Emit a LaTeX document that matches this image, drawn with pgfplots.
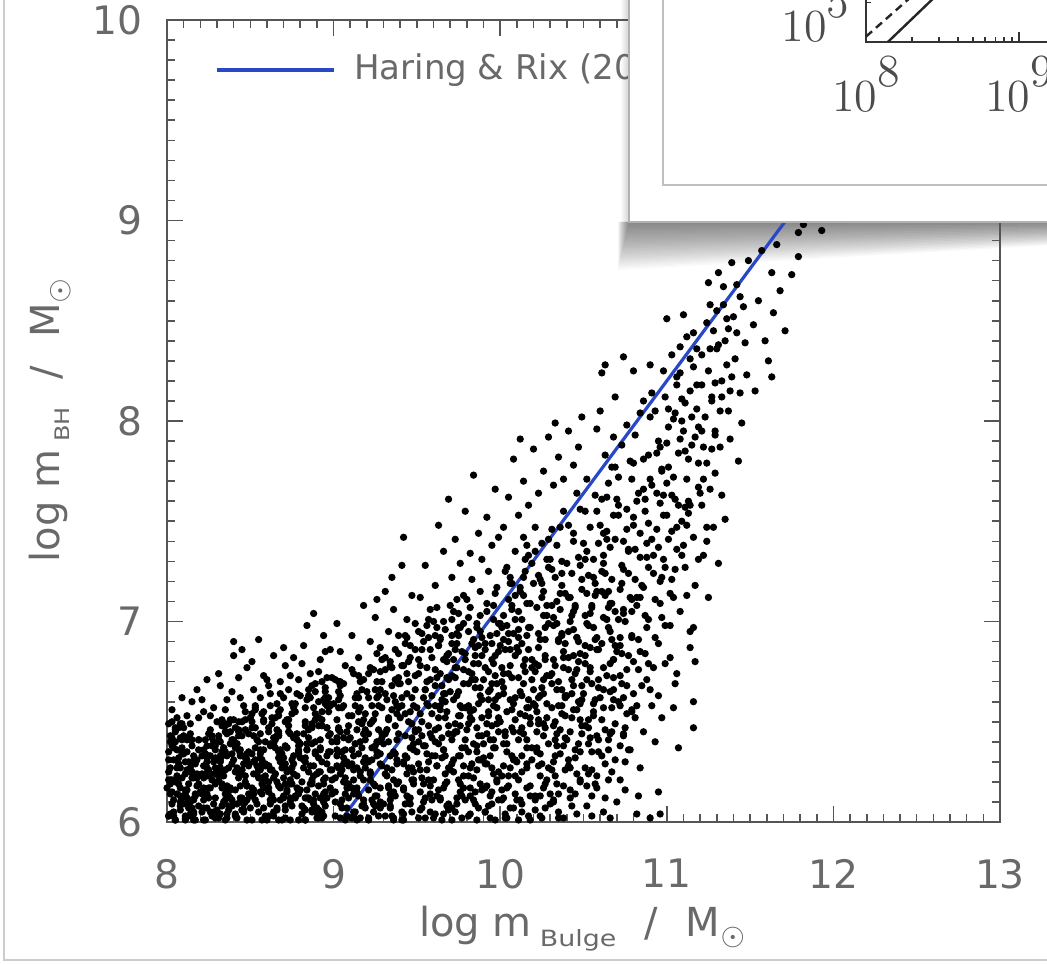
\documentclass[border=0pt]{standalone}
\usepackage{pgfplots}
\pgfplotsset{compat=1.18}
\usepackage{pgfplotstable}
\usepackage{graphicx}
\usepackage{fontspec}
\setmainfont{DejaVu Sans}
\newfontfamily\lmr{Latin Modern Roman}
\definecolor{hrblue}{RGB}{40,72,200}
\definecolor{txtgray}{RGB}{105,105,105}
\definecolor{axgray}{RGB}{85,85,85}

\pgfplotstableread[row sep=\\]{
x y\\
8.01 6.03\\ 8.04 6.11\\ 8.07 6.19\\ 8.02 6.27\\ 8.09 6.34\\ 8.05 6.40\\ 8.03 6.15\\ 8.08 6.06\\ 8.06 6.23\\ 8.01 6.31\\ 8.04 6.37\\ 8.09 6.12\\ 8.02 6.21\\ 8.07 6.29\\ 8.05 6.01\\ 8.03 6.09\\ 8.08 6.17\\ 8.06 6.36\\ 8.01 6.25\\ 8.09 6.41\\ 8.04 6.05\\ 8.07 6.32\\ 8.02 6.14\\ 8.05 6.20\\ 8.08 6.27\\
8.11 6.02\\ 8.14 6.10\\ 8.18 6.18\\ 8.12 6.26\\ 8.16 6.33\\ 8.19 6.41\\ 8.13 6.07\\ 8.17 6.14\\ 8.15 6.22\\ 8.11 6.30\\ 8.19 6.36\\ 8.14 6.44\\ 8.16 6.04\\ 8.12 6.12\\ 8.18 6.24\\ 8.13 6.19\\ 8.17 6.29\\ 8.15 6.38\\ 8.11 6.16\\ 8.19 6.08\\ 8.14 6.27\\ 8.16 6.01\\ 8.12 6.35\\ 8.18 6.31\\ 8.15 6.11\\
8.21 6.05\\ 8.24 6.13\\ 8.27 6.21\\ 8.22 6.28\\ 8.29 6.36\\ 8.25 6.44\\ 8.23 6.01\\ 8.28 6.09\\ 8.26 6.17\\ 8.21 6.24\\ 8.24 6.32\\ 8.28 6.40\\ 8.22 6.11\\ 8.27 6.03\\ 8.25 6.26\\ 8.29 6.19\\ 8.23 6.34\\ 8.26 6.46\\ 8.21 6.15\\ 8.28 6.30\\ 8.24 6.07\\ 8.27 6.38\\ 8.22 6.22\\ 8.25 6.12\\ 8.29 6.02\\
8.31 6.02\\ 8.34 6.10\\ 8.38 6.17\\ 8.32 6.25\\ 8.36 6.33\\ 8.39 6.41\\ 8.33 6.48\\ 8.37 6.06\\ 8.35 6.14\\ 8.31 6.21\\ 8.39 6.29\\ 8.34 6.37\\ 8.36 6.44\\ 8.32 6.04\\ 8.38 6.12\\ 8.33 6.19\\ 8.37 6.27\\ 8.35 6.35\\ 8.31 6.43\\ 8.39 6.08\\ 8.34 6.23\\ 8.36 6.16\\ 8.32 6.31\\ 8.38 6.39\\ 8.35 6.01\\
8.41 6.04\\ 8.44 6.12\\ 8.47 6.20\\ 8.42 6.27\\ 8.49 6.35\\ 8.45 6.43\\ 8.43 6.50\\ 8.48 6.01\\ 8.46 6.09\\ 8.41 6.16\\ 8.44 6.24\\ 8.48 6.31\\ 8.42 6.39\\ 8.47 6.46\\ 8.45 6.06\\ 8.49 6.14\\ 8.43 6.22\\ 8.46 6.29\\ 8.41 6.37\\ 8.48 6.18\\ 8.44 6.33\\ 8.47 6.10\\ 8.42 6.02\\ 8.45 6.26\\ 8.49 6.44\\
8.51 6.01\\ 8.54 6.09\\ 8.58 6.17\\ 8.52 6.24\\ 8.56 6.32\\ 8.59 6.40\\ 8.53 6.47\\ 8.57 6.54\\ 8.55 6.05\\ 8.51 6.13\\ 8.59 6.21\\ 8.54 6.28\\ 8.56 6.36\\ 8.52 6.43\\ 8.58 6.50\\ 8.53 6.11\\ 8.57 6.19\\ 8.55 6.26\\ 8.51 6.34\\ 8.59 6.03\\ 8.54 6.41\\ 8.56 6.15\\ 8.52 6.30\\ 8.58 6.07\\ 8.55 6.22\\
8.61 6.03\\ 8.64 6.11\\ 8.67 6.18\\ 8.62 6.26\\ 8.69 6.34\\ 8.65 6.41\\ 8.63 6.49\\ 8.68 6.56\\ 8.66 6.07\\ 8.61 6.15\\ 8.64 6.22\\ 8.68 6.30\\ 8.62 6.38\\ 8.67 6.45\\ 8.65 6.52\\ 8.69 6.01\\ 8.63 6.13\\ 8.66 6.20\\ 8.61 6.28\\ 8.68 6.36\\ 8.64 6.05\\ 8.67 6.43\\ 8.62 6.09\\ 8.65 6.24\\ 8.69 6.32\\
8.71 6.02\\ 8.74 6.10\\ 8.78 6.17\\ 8.72 6.25\\ 8.76 6.33\\ 8.79 6.40\\ 8.73 6.48\\ 8.77 6.55\\ 8.75 6.59\\ 8.71 6.06\\ 8.79 6.14\\ 8.74 6.21\\ 8.76 6.29\\ 8.72 6.37\\ 8.78 6.44\\ 8.73 6.51\\ 8.77 6.12\\ 8.75 6.19\\ 8.71 6.27\\ 8.79 6.35\\ 8.74 6.01\\ 8.76 6.42\\ 8.72 6.16\\ 8.78 6.23\\ 8.75 6.08\\
8.81 6.04\\ 8.84 6.12\\ 8.87 6.19\\ 8.82 6.27\\ 8.89 6.35\\ 8.85 6.42\\ 8.83 6.50\\ 8.88 6.57\\ 8.86 6.62\\ 8.81 6.08\\ 8.84 6.16\\ 8.88 6.23\\ 8.82 6.31\\ 8.87 6.39\\ 8.85 6.46\\ 8.89 6.54\\ 8.83 6.01\\ 8.86 6.11\\ 8.81 6.20\\ 8.88 6.28\\ 8.84 6.36\\ 8.87 6.06\\ 8.82 6.44\\ 8.85 6.25\\ 8.89 6.14\\
8.91 6.02\\ 8.94 6.10\\ 8.98 6.17\\ 8.92 6.25\\ 8.96 6.33\\ 8.99 6.40\\ 8.93 6.48\\ 8.97 6.55\\ 8.95 6.62\\ 8.91 6.06\\ 8.99 6.14\\ 8.94 6.21\\ 8.96 6.29\\ 8.92 6.37\\ 8.98 6.44\\ 8.93 6.51\\ 8.97 6.59\\ 8.95 6.65\\ 8.91 6.18\\ 8.99 6.26\\ 8.94 6.03\\ 8.96 6.47\\ 8.92 6.12\\ 8.98 6.35\\ 8.95 6.08\\
8.08 6.49\\ 8.12 6.53\\ 8.19 6.52\\ 8.24 6.71\\ 8.32 6.68\\ 8.28 6.57\\ 8.36 6.61\\ 8.40 6.90\\ 8.40 6.83\\ 8.44 6.62\\ 8.48 6.77\\ 8.52 6.66\\ 8.55 6.91\\ 8.58 6.73\\ 8.62 6.64\\ 8.64 6.83\\ 8.68 6.70\\ 8.71 6.78\\ 8.73 6.66\\ 8.76 6.82\\ 8.79 6.71\\ 8.82 6.88\\ 8.84 6.98\\ 8.86 6.74\\ 8.88 7.04\\ 8.89 6.69\\ 8.92 6.81\\ 8.94 6.93\\ 8.96 6.72\\ 8.98 6.86\\ 8.15 6.60\\ 8.05 6.47\\ 8.22 6.55\\ 8.46 6.58\\ 8.61 6.68\\ 8.70 6.62\\ 8.85 6.66\\ 8.93 6.70\\
9.01 6.03\\ 9.05 6.11\\ 9.08 6.19\\ 9.02 6.28\\ 9.07 6.36\\ 9.04 6.45\\ 9.09 6.53\\ 9.03 6.61\\ 9.06 6.69\\ 9.01 6.15\\ 9.08 6.07\\ 9.04 6.24\\ 9.06 6.32\\ 9.02 6.40\\ 9.09 6.48\\ 9.05 6.57\\ 9.03 6.65\\ 9.07 6.01\\ 9.01 6.22\\ 9.08 6.30\\ 9.04 6.09\\ 9.06 6.42\\ 9.02 6.51\\ 9.09 6.17\\ 9.05 6.35\\ 9.03 6.70\\
9.12 6.05\\ 9.15 6.13\\ 9.18 6.21\\ 9.11 6.29\\ 9.17 6.37\\ 9.14 6.46\\ 9.19 6.54\\ 9.13 6.62\\ 9.16 6.70\\ 9.11 6.76\\ 9.18 6.09\\ 9.14 6.17\\ 9.16 6.25\\ 9.12 6.33\\ 9.19 6.41\\ 9.15 6.50\\ 9.13 6.58\\ 9.17 6.66\\ 9.11 6.02\\ 9.18 6.44\\ 9.14 6.27\\ 9.16 6.57\\ 9.12 6.14\\ 9.19 6.32\\ 9.15 6.73\\ 9.13 6.39\\
9.21 6.01\\ 9.24 6.09\\ 9.28 6.17\\ 9.22 6.25\\ 9.26 6.33\\ 9.29 6.42\\ 9.23 6.50\\ 9.27 6.58\\ 9.25 6.66\\ 9.21 6.74\\ 9.29 6.81\\ 9.24 6.05\\ 9.26 6.13\\ 9.22 6.21\\ 9.28 6.29\\ 9.23 6.37\\ 9.27 6.46\\ 9.25 6.54\\ 9.21 6.62\\ 9.29 6.70\\ 9.24 6.19\\ 9.26 6.40\\ 9.22 6.77\\ 9.28 6.07\\ 9.23 6.31\\ 9.27 6.63\\
9.31 6.03\\ 9.34 6.11\\ 9.38 6.19\\ 9.32 6.27\\ 9.36 6.35\\ 9.39 6.44\\ 9.33 6.52\\ 9.37 6.60\\ 9.35 6.68\\ 9.31 6.76\\ 9.39 6.84\\ 9.34 6.07\\ 9.36 6.15\\ 9.32 6.23\\ 9.38 6.31\\ 9.33 6.40\\ 9.37 6.48\\ 9.35 6.56\\ 9.31 6.64\\ 9.39 6.72\\ 9.34 6.80\\ 9.36 6.02\\ 9.32 6.46\\ 9.38 6.58\\ 9.33 6.17\\ 9.37 6.86\\
9.41 6.05\\ 9.44 6.13\\ 9.48 6.21\\ 9.42 6.29\\ 9.46 6.37\\ 9.49 6.46\\ 9.43 6.54\\ 9.47 6.62\\ 9.45 6.70\\ 9.41 6.78\\ 9.49 6.86\\ 9.44 6.92\\ 9.46 6.09\\ 9.42 6.17\\ 9.48 6.25\\ 9.43 6.33\\ 9.47 6.42\\ 9.45 6.50\\ 9.41 6.58\\ 9.49 6.66\\ 9.44 6.74\\ 9.46 6.82\\ 9.42 6.01\\ 9.48 6.39\\ 9.43 6.89\\ 9.47 6.27\\
9.02 6.99\\ 9.04 6.85\\ 9.07 6.78\\ 9.11 6.93\\ 9.15 6.82\\ 9.18 7.08\\ 9.22 6.90\\ 9.25 7.02\\ 9.28 6.87\\ 9.31 7.15\\ 9.33 6.95\\ 9.36 7.06\\ 9.39 6.93\\ 9.41 7.28\\ 9.42 7.42\\ 9.44 7.01\\ 9.47 7.13\\ 9.49 6.99\\ 9.35 7.22\\ 9.26 7.11\\
9.51 6.02\\ 9.54 6.10\\ 9.58 6.18\\ 9.52 6.26\\ 9.56 6.34\\ 9.59 6.42\\ 9.53 6.50\\ 9.57 6.58\\ 9.55 6.66\\ 9.51 6.74\\ 9.59 6.82\\ 9.54 6.90\\ 9.56 6.98\\ 9.52 6.06\\ 9.58 6.14\\ 9.53 6.22\\ 9.57 6.30\\ 9.55 6.38\\ 9.51 6.46\\ 9.59 6.54\\ 9.54 6.62\\ 9.56 6.70\\ 9.52 6.78\\ 9.58 6.86\\ 9.53 6.94\\ 9.57 7.01\\ 9.55 6.12\\ 9.51 6.40\\
9.61 6.04\\ 9.64 6.12\\ 9.68 6.20\\ 9.62 6.28\\ 9.66 6.36\\ 9.69 6.44\\ 9.63 6.52\\ 9.67 6.60\\ 9.65 6.68\\ 9.61 6.76\\ 9.69 6.84\\ 9.64 6.92\\ 9.66 7.00\\ 9.62 7.07\\ 9.68 6.08\\ 9.63 6.16\\ 9.67 6.24\\ 9.65 6.32\\ 9.61 6.40\\ 9.69 6.48\\ 9.64 6.56\\ 9.66 6.64\\ 9.62 6.72\\ 9.68 6.80\\ 9.63 6.88\\ 9.67 6.96\\ 9.65 6.01\\ 9.61 6.58\\
9.71 6.01\\ 9.74 6.09\\ 9.78 6.17\\ 9.72 6.25\\ 9.76 6.33\\ 9.79 6.41\\ 9.73 6.49\\ 9.77 6.57\\ 9.75 6.65\\ 9.71 6.73\\ 9.79 6.81\\ 9.74 6.89\\ 9.76 6.97\\ 9.72 7.05\\ 9.78 7.13\\ 9.73 6.05\\ 9.77 6.13\\ 9.75 6.21\\ 9.71 6.29\\ 9.79 6.37\\ 9.74 6.45\\ 9.76 6.53\\ 9.72 6.61\\ 9.78 6.69\\ 9.73 6.77\\ 9.77 6.85\\ 9.75 6.93\\ 9.71 7.01\\
9.81 6.03\\ 9.84 6.11\\ 9.88 6.19\\ 9.82 6.27\\ 9.86 6.35\\ 9.89 6.43\\ 9.83 6.51\\ 9.87 6.59\\ 9.85 6.67\\ 9.81 6.75\\ 9.89 6.83\\ 9.84 6.91\\ 9.86 6.99\\ 9.82 7.07\\ 9.88 7.15\\ 9.83 7.21\\ 9.87 6.07\\ 9.85 6.15\\ 9.81 6.23\\ 9.89 6.31\\ 9.84 6.39\\ 9.86 6.47\\ 9.82 6.55\\ 9.88 6.63\\ 9.83 6.71\\ 9.87 6.79\\ 9.85 6.87\\ 9.81 6.95\\
9.91 6.05\\ 9.94 6.13\\ 9.98 6.21\\ 9.92 6.29\\ 9.96 6.37\\ 9.99 6.45\\ 9.93 6.53\\ 9.97 6.61\\ 9.95 6.69\\ 9.91 6.77\\ 9.99 6.85\\ 9.94 6.93\\ 9.96 7.01\\ 9.92 7.09\\ 9.98 7.17\\ 9.93 7.25\\ 9.97 6.01\\ 9.95 6.09\\ 9.91 6.17\\ 9.99 6.25\\ 9.94 6.33\\ 9.96 6.41\\ 9.92 6.49\\ 9.98 6.57\\ 9.93 6.65\\ 9.97 6.73\\ 9.95 6.81\\ 9.91 6.89\\
9.52 7.12\\ 9.55 7.28\\ 9.58 7.06\\ 9.61 7.18\\ 9.63 7.48\\ 9.66 7.35\\ 9.69 7.61\\ 9.71 7.22\\ 9.73 7.41\\ 9.76 7.29\\ 9.79 7.55\\ 9.82 7.34\\ 9.84 7.73\\ 9.87 7.44\\ 9.89 7.31\\ 9.92 7.52\\ 9.95 7.38\\ 9.97 7.66\\ 9.99 7.42\\ 9.60 7.00\\ 9.74 7.11\\
10.03 6.02\\ 10.09 6.14\\ 10.01 6.23\\ 10.06 6.07\\ 10.08 6.31\\ 10.02 6.39\\ 10.05 6.18\\ 10.07 6.47\\ 10.04 6.55\\ 10.09 6.62\\ 10.01 6.70\\ 10.06 6.78\\ 10.03 6.86\\ 10.08 6.94\\ 10.02 7.03\\ 10.05 7.11\\ 10.07 7.19\\ 10.04 7.27\\ 10.09 7.35\\ 10.01 6.11\\ 10.06 6.27\\ 10.03 6.43\\ 10.08 6.59\\ 10.02 6.74\\ 10.05 6.90\\ 10.07 7.06\\ 10.04 6.35\\ 10.09 6.51\\ 10.01 6.97\\ 10.06 7.22\\
10.13 6.05\\ 10.18 6.13\\ 10.11 6.21\\ 10.16 6.29\\ 10.19 6.37\\ 10.12 6.45\\ 10.15 6.53\\ 10.17 6.61\\ 10.14 6.69\\ 10.19 6.77\\ 10.11 6.85\\ 10.16 6.93\\ 10.13 7.01\\ 10.18 7.09\\ 10.12 7.17\\ 10.15 7.25\\ 10.17 7.33\\ 10.14 7.42\\ 10.11 6.01\\ 10.16 6.17\\ 10.13 6.33\\ 10.18 6.49\\ 10.12 6.65\\ 10.15 6.81\\ 10.17 6.97\\ 10.14 7.13\\ 10.19 7.29\\ 10.11 6.41\\ 10.16 6.57\\ 10.13 6.89\\
10.24 6.03\\ 10.21 6.11\\ 10.27 6.19\\ 10.29 6.27\\ 10.22 6.35\\ 10.26 6.43\\ 10.23 6.51\\ 10.28 6.59\\ 10.25 6.67\\ 10.21 6.75\\ 10.27 6.83\\ 10.24 6.91\\ 10.29 6.99\\ 10.22 7.07\\ 10.26 7.15\\ 10.23 7.23\\ 10.28 7.31\\ 10.25 7.39\\ 10.21 7.47\\ 10.27 6.07\\ 10.24 6.23\\ 10.29 6.39\\ 10.22 6.55\\ 10.26 6.71\\ 10.23 6.87\\ 10.28 7.03\\ 10.25 7.19\\ 10.21 7.35\\ 10.27 6.47\\ 10.24 6.63\\
10.35 6.02\\ 10.32 6.10\\ 10.38 6.18\\ 10.31 6.26\\ 10.36 6.34\\ 10.39 6.42\\ 10.33 6.50\\ 10.37 6.58\\ 10.34 6.66\\ 10.31 6.74\\ 10.38 6.82\\ 10.35 6.90\\ 10.32 6.98\\ 10.36 7.06\\ 10.39 7.14\\ 10.33 7.22\\ 10.37 7.30\\ 10.34 7.38\\ 10.31 7.46\\ 10.38 7.55\\ 10.35 6.14\\ 10.32 6.30\\ 10.36 6.46\\ 10.39 6.62\\ 10.33 6.78\\ 10.37 6.94\\ 10.34 7.10\\ 10.31 7.26\\ 10.38 6.38\\ 10.35 6.70\\
10.46 6.04\\ 10.42 6.12\\ 10.48 6.20\\ 10.41 6.28\\ 10.45 6.36\\ 10.49 6.44\\ 10.43 6.52\\ 10.47 6.60\\ 10.44 6.68\\ 10.41 6.76\\ 10.48 6.84\\ 10.46 6.92\\ 10.42 7.00\\ 10.45 7.08\\ 10.49 7.16\\ 10.43 7.24\\ 10.47 7.32\\ 10.44 7.40\\ 10.41 7.48\\ 10.48 7.56\\ 10.46 7.64\\ 10.42 6.16\\ 10.45 6.32\\ 10.49 6.48\\ 10.43 6.64\\ 10.47 6.80\\ 10.44 6.96\\ 10.41 7.12\\ 10.48 7.28\\ 10.46 6.56\\
10.02 7.47\\ 10.05 7.62\\ 10.08 7.81\\ 10.11 7.53\\ 10.14 7.70\\ 10.17 7.58\\ 10.20 7.86\\ 10.23 7.64\\ 10.26 7.75\\ 10.29 7.92\\ 10.32 7.68\\ 10.35 7.82\\ 10.38 7.71\\ 10.41 7.95\\ 10.44 7.78\\ 10.47 7.87\\ 10.49 8.02\\ 10.12 7.91\\ 10.33 7.99\\
10.52 6.08\\ 10.57 6.19\\ 10.51 6.27\\ 10.55 6.35\\ 10.58 6.43\\ 10.53 6.51\\ 10.56 6.59\\ 10.59 6.67\\ 10.54 6.75\\ 10.51 6.83\\ 10.57 6.91\\ 10.52 6.99\\ 10.55 7.07\\ 10.58 7.15\\ 10.53 7.23\\ 10.56 7.31\\ 10.59 7.39\\ 10.54 7.47\\ 10.51 7.55\\ 10.57 7.63\\ 10.52 7.71\\ 10.55 6.03\\ 10.58 6.23\\ 10.53 6.39\\ 10.56 6.55\\ 10.59 6.71\\ 10.54 6.87\\ 10.51 7.03\\ 10.57 7.19\\ 10.52 7.35\\
10.63 6.12\\ 10.67 6.25\\ 10.61 6.33\\ 10.65 6.41\\ 10.69 6.49\\ 10.62 6.57\\ 10.66 6.65\\ 10.64 6.73\\ 10.68 6.81\\ 10.61 6.89\\ 10.65 6.97\\ 10.69 7.05\\ 10.63 7.13\\ 10.67 7.21\\ 10.62 7.29\\ 10.66 7.37\\ 10.64 7.45\\ 10.68 7.53\\ 10.61 7.61\\ 10.65 7.69\\ 10.69 7.77\\ 10.63 7.83\\ 10.67 6.45\\ 10.62 6.77\\ 10.66 7.09\\ 10.64 7.41\\ 10.68 6.61\\ 10.61 7.25\\
10.72 6.21\\ 10.78 6.36\\ 10.74 6.44\\ 10.81 6.52\\ 10.71 6.60\\ 10.76 6.68\\ 10.83 6.76\\ 10.73 6.84\\ 10.79 6.92\\ 10.75 7.00\\ 10.82 7.08\\ 10.72 7.16\\ 10.77 7.24\\ 10.84 7.32\\ 10.74 7.40\\ 10.80 7.48\\ 10.76 7.56\\ 10.83 7.64\\ 10.71 7.72\\ 10.78 7.80\\ 10.73 7.88\\ 10.81 7.93\\ 10.75 6.30\\ 10.79 6.56\\ 10.72 6.88\\ 10.84 7.12\\ 10.77 7.36\\ 10.82 7.60\\ 10.74 7.04\\ 10.80 6.80\\
10.55 6.13\\ 10.62 6.05\\ 10.66 6.02\\ 10.70 6.10\\ 10.75 6.16\\ 10.82 6.04\\ 10.83 6.13\\ 10.84 6.27\\ 10.90 6.02\\ 10.95 6.15\\ 10.96 6.04\\ 10.60 8.05\\ 10.63 8.28\\ 10.61 8.24\\ 10.74 8.32\\ 10.80 8.25\\ 10.69 8.12\\ 10.58 7.96\\ 10.86 8.10\\
10.86 6.45\\ 10.91 6.58\\ 10.88 6.71\\ 10.95 6.63\\ 10.87 6.84\\ 10.93 6.92\\ 10.99 6.79\\ 10.89 7.01\\ 10.96 7.09\\ 11.02 6.98\\ 10.86 7.17\\ 10.92 7.24\\ 10.98 7.31\\ 11.04 7.12\\ 10.88 7.39\\ 10.94 7.46\\ 11.00 7.53\\ 11.06 7.36\\ 10.87 7.61\\ 10.91 7.68\\ 10.97 7.75\\ 11.03 7.63\\ 11.09 7.50\\ 10.89 7.83\\ 10.95 7.90\\ 11.01 7.97\\ 11.07 7.84\\ 11.12 7.71\\ 10.93 8.05\\ 10.99 8.12\\ 11.05 8.04\\ 11.10 7.95\\ 11.15 7.88\\ 11.00 8.51\\ 11.10 8.53\\ 10.90 8.28\\ 11.08 8.24\\ 11.14 8.15\\ 11.18 8.06\\ 11.03 8.33\\ 11.13 7.60\\ 11.16 7.42\\ 11.19 7.79\\ 11.11 7.27\\ 11.17 7.18\\ 11.08 7.05\\ 11.14 6.95\\ 11.02 6.82\\ 11.06 6.74\\ 11.05 6.69\\ 11.16 6.97\\ 11.14 6.87\\ 11.17 6.80\\ 11.16 6.60\\ 11.16 6.47\\ 11.07 6.37\\ 10.93 6.40\\ 10.97 6.52\\ 11.04 6.57\\ 10.90 6.66\\ 11.11 7.57\\ 11.19 7.31\\ 11.13 7.54\\ 11.01 7.41\\ 10.96 7.20\\ 11.09 8.00\\ 11.18 8.36\\ 11.12 8.42\\ 11.06 8.18\\ 10.98 7.63\\
11.22 7.87\\ 11.24 7.47\\ 11.28 7.47\\ 11.31 7.29\\ 11.24 7.40\\ 11.25 7.12\\ 11.21 7.58\\ 11.26 7.66\\ 11.29 7.74\\ 11.32 7.87\\ 11.38 7.91\\ 11.45 7.99\\ 11.44 8.14\\ 11.38 8.15\\ 11.23 8.02\\ 11.27 8.10\\ 11.33 8.20\\ 11.36 8.28\\ 11.41 8.31\\ 11.30 8.36\\ 11.25 8.25\\ 11.35 8.40\\ 11.42 8.44\\ 11.21 8.18\\ 11.28 8.45\\ 11.25 8.69\\ 11.31 8.74\\ 11.39 8.79\\ 11.49 8.80\\ 11.34 8.58\\ 11.44 8.62\\ 11.40 8.52\\ 11.47 8.39\\ 11.37 8.05\\ 11.29 7.95\\ 11.48 8.23\\ 11.22 7.33\\ 11.33 7.63\\ 11.43 7.80\\ 11.35 7.51\\
11.59 8.40\\ 11.63 8.22\\ 11.64 8.54\\ 11.63 8.74\\ 11.75 8.73\\ 11.79 8.82\\ 11.79 8.94\\ 11.93 8.95\\ 11.55 8.60\\ 11.57 8.85\\ 11.52 8.48\\ 11.68 8.65\\ 11.71 8.45\\ 11.53 8.15\\ 11.82 8.98\\ 11.87 9.02\\ 11.61 8.30\\ 11.66 8.88\\
8.01 6.21\\ 8.05 6.46\\ 8.06 6.27\\ 8.05 6.45\\ 8.07 6.47\\ 8.02 6.19\\ 8.04 6.31\\ 8.06 6.22\\ 8.03 6.42\\ 8.02 6.40\\ 8.05 6.01\\ 8.08 6.42\\ 8.01 6.49\\ 8.01 6.35\\ 8.03 6.50\\ 8.03 6.38\\ 8.01 6.03\\ 8.08 6.10\\ 8.09 6.37\\ 8.09 6.22\\ 8.03 6.04\\ 8.08 6.08\\ 8.04 6.03\\ 8.02 6.43\\ 8.02 6.04\\ 8.09 6.49\\ 8.06 6.14\\ 8.00 6.17\\ 8.08 6.13\\ 8.03 6.21\\
8.11 6.09\\ 8.10 6.34\\ 8.19 6.41\\ 8.11 6.24\\ 8.10 6.43\\ 8.15 6.07\\ 8.12 6.41\\ 8.13 6.03\\ 8.16 6.24\\ 8.10 6.47\\ 8.18 6.22\\ 8.16 6.05\\ 8.15 6.25\\ 8.15 6.41\\ 8.12 6.16\\ 8.17 6.13\\ 8.13 6.30\\ 8.14 6.04\\ 8.11 6.14\\ 8.14 6.41\\ 8.14 6.25\\ 8.12 6.42\\ 8.11 6.01\\ 8.17 6.01\\ 8.19 6.19\\ 8.15 6.11\\ 8.11 6.03\\ 8.15 6.30\\ 8.16 6.22\\ 8.16 6.11\\
8.29 6.24\\ 8.29 6.27\\ 8.20 6.15\\ 8.23 6.41\\ 8.29 6.32\\ 8.24 6.14\\ 8.28 6.05\\ 8.29 6.38\\ 8.26 6.33\\ 8.25 6.17\\ 8.24 6.23\\ 8.21 6.14\\ 8.24 6.38\\ 8.26 6.24\\ 8.22 6.17\\ 8.27 6.43\\ 8.27 6.42\\ 8.21 6.33\\ 8.22 6.36\\ 8.22 6.01\\ 8.29 6.05\\ 8.21 6.23\\ 8.25 6.33\\ 8.29 6.12\\ 8.24 6.30\\ 8.23 6.24\\ 8.26 6.05\\ 8.24 6.27\\ 8.23 6.13\\ 8.22 6.07\\
8.33 6.51\\ 8.36 6.04\\ 8.32 6.33\\ 8.32 6.27\\ 8.31 6.23\\ 8.32 6.40\\ 8.37 6.13\\ 8.35 6.48\\ 8.30 6.03\\ 8.36 6.02\\ 8.33 6.08\\ 8.35 6.49\\ 8.31 6.41\\ 8.38 6.45\\ 8.35 6.11\\ 8.39 6.11\\ 8.39 6.34\\ 8.38 6.16\\ 8.32 6.30\\ 8.30 6.50\\ 8.37 6.08\\ 8.33 6.35\\ 8.34 6.37\\ 8.38 6.51\\ 8.35 6.45\\ 8.33 6.33\\ 8.30 6.06\\ 8.33 6.17\\ 8.36 6.18\\ 8.35 6.26\\
8.48 6.11\\ 8.44 6.36\\ 8.45 6.12\\ 8.43 6.46\\ 8.41 6.25\\ 8.49 6.28\\ 8.47 6.23\\ 8.45 6.06\\ 8.46 6.05\\ 8.44 6.18\\ 8.40 6.31\\ 8.42 6.39\\ 8.43 6.36\\ 8.47 6.32\\ 8.45 6.50\\ 8.49 6.29\\ 8.40 6.51\\ 8.41 6.47\\ 8.42 6.09\\ 8.43 6.45\\ 8.48 6.18\\ 8.46 6.06\\ 8.47 6.51\\ 8.41 6.03\\ 8.44 6.10\\ 8.45 6.26\\ 8.40 6.41\\ 8.44 6.34\\ 8.43 6.43\\ 8.48 6.34\\
8.57 6.29\\ 8.55 6.40\\ 8.53 6.31\\ 8.58 6.51\\ 8.57 6.31\\ 8.57 6.14\\ 8.58 6.55\\ 8.52 6.16\\ 8.59 6.23\\ 8.51 6.50\\ 8.50 6.07\\ 8.59 6.29\\ 8.51 6.17\\ 8.58 6.20\\ 8.56 6.44\\ 8.53 6.37\\ 8.54 6.24\\ 8.56 6.34\\ 8.56 6.26\\ 8.50 6.52\\ 8.50 6.13\\ 8.53 6.56\\ 8.59 6.28\\ 8.53 6.57\\ 8.52 6.14\\ 8.57 6.22\\ 8.51 6.54\\ 8.57 6.01\\ 8.51 6.47\\ 8.58 6.36\\
8.69 6.27\\ 8.67 6.01\\ 8.67 6.43\\ 8.65 6.24\\ 8.62 6.11\\ 8.61 6.47\\ 8.62 6.58\\ 8.64 6.39\\ 8.67 6.32\\ 8.63 6.52\\ 8.66 6.46\\ 8.68 6.11\\ 8.64 6.42\\ 8.66 6.43\\ 8.64 6.03\\ 8.61 6.20\\ 8.60 6.01\\ 8.65 6.42\\ 8.61 6.17\\ 8.61 6.28\\ 8.62 6.39\\ 8.65 6.37\\ 8.68 6.17\\ 8.67 6.53\\ 8.67 6.44\\ 8.63 6.26\\ 8.67 6.35\\ 8.67 6.55\\ 8.66 6.06\\ 8.61 6.45\\
8.76 6.24\\ 8.71 6.50\\ 8.77 6.13\\ 8.74 6.44\\ 8.74 6.26\\ 8.79 6.01\\ 8.72 6.15\\ 8.79 6.34\\ 8.74 6.19\\ 8.71 6.29\\ 8.75 6.31\\ 8.75 6.54\\ 8.73 6.45\\ 8.70 6.32\\ 8.77 6.59\\ 8.72 6.51\\ 8.76 6.57\\ 8.72 6.37\\ 8.79 6.15\\ 8.75 6.27\\ 8.70 6.12\\ 8.79 6.36\\ 8.71 6.08\\ 8.71 6.19\\ 8.70 6.13\\ 8.79 6.38\\ 8.78 6.41\\ 8.70 6.22\\ 8.74 6.12\\ 8.71 6.38\\
8.88 6.09\\ 8.86 6.19\\ 8.87 6.49\\ 8.87 6.47\\ 8.83 6.06\\ 8.89 6.40\\ 8.85 6.12\\ 8.87 6.05\\ 8.82 6.07\\ 8.83 6.32\\ 8.89 6.65\\ 8.84 6.61\\ 8.83 6.48\\ 8.89 6.51\\ 8.80 6.32\\ 8.89 6.34\\ 8.80 6.39\\ 8.87 6.20\\ 8.87 6.21\\ 8.88 6.11\\ 8.80 6.63\\ 8.83 6.12\\ 8.85 6.63\\ 8.80 6.16\\ 8.84 6.39\\ 8.84 6.36\\ 8.83 6.30\\ 8.89 6.05\\ 8.83 6.01\\ 8.86 6.28\\
8.95 6.15\\ 8.93 6.05\\ 8.92 6.36\\ 8.93 6.30\\ 8.96 6.58\\ 8.90 6.24\\ 8.92 6.41\\ 8.99 6.21\\ 8.91 6.60\\ 8.91 6.48\\ 8.90 6.07\\ 8.90 6.02\\ 8.91 6.25\\ 8.98 6.26\\ 8.97 6.35\\ 8.98 6.58\\ 8.95 6.59\\ 8.95 6.22\\ 8.92 6.05\\ 8.93 6.55\\ 8.94 6.14\\ 8.96 6.12\\ 8.91 6.52\\ 8.96 6.47\\ 8.91 6.32\\ 8.93 6.02\\ 8.95 6.67\\ 8.97 6.43\\ 8.94 6.61\\ 8.94 6.19\\
9.01 6.10\\ 9.02 6.42\\ 9.03 6.47\\ 9.09 6.41\\ 9.03 6.57\\ 9.08 6.17\\ 9.02 6.33\\ 9.03 6.46\\ 9.03 6.27\\ 9.09 6.19\\ 9.02 6.36\\ 9.04 6.63\\ 9.07 6.14\\ 9.09 6.12\\ 9.09 6.28\\ 9.05 6.26\\ 9.05 6.07\\ 9.00 6.59\\ 9.04 6.70\\ 9.04 6.68\\ 9.07 6.22\\ 9.06 6.58\\ 9.06 6.29\\ 9.06 6.20\\ 9.08 6.03\\ 9.01 6.71\\ 9.08 6.45\\ 9.04 6.02\\
9.15 6.62\\ 9.12 6.26\\ 9.17 6.08\\ 9.13 6.05\\ 9.12 6.74\\ 9.18 6.11\\ 9.16 6.02\\ 9.13 6.39\\ 9.12 6.21\\ 9.16 6.23\\ 9.17 6.49\\ 9.19 6.07\\ 9.14 6.64\\ 9.19 6.46\\ 9.10 6.42\\ 9.18 6.51\\ 9.11 6.17\\ 9.15 6.55\\ 9.19 6.27\\ 9.18 6.30\\ 9.14 6.01\\ 9.11 6.36\\ 9.15 6.34\\ 9.14 6.15\\ 9.12 6.03\\ 9.11 6.53\\ 9.18 6.71\\ 9.16 6.40\\
9.25 6.08\\ 9.29 6.44\\ 9.24 6.51\\ 9.22 6.49\\ 9.28 6.75\\ 9.24 6.76\\ 9.26 6.70\\ 9.21 6.30\\ 9.27 6.03\\ 9.28 6.34\\ 9.20 6.65\\ 9.25 6.18\\ 9.23 6.58\\ 9.23 6.11\\ 9.26 6.35\\ 9.28 6.10\\ 9.25 6.38\\ 9.29 6.57\\ 9.22 6.24\\ 9.26 6.62\\ 9.21 6.44\\ 9.25 6.13\\ 9.21 6.02\\ 9.21 6.16\\ 9.29 6.28\\ 9.27 6.40\\ 9.26 6.84\\ 9.28 6.66\\
9.30 6.39\\ 9.38 6.29\\ 9.33 6.51\\ 9.34 6.33\\ 9.36 6.21\\ 9.38 6.54\\ 9.33 6.18\\ 9.31 6.44\\ 9.37 6.71\\ 9.30 6.09\\ 9.39 6.20\\ 9.35 6.03\\ 9.32 6.61\\ 9.34 6.78\\ 9.38 6.41\\ 9.36 6.01\\ 9.39 6.57\\ 9.35 6.26\\ 9.31 6.82\\ 9.34 6.14\\ 9.31 6.24\\ 9.37 6.34\\ 9.35 6.77\\ 9.32 6.46\\ 9.39 6.69\\ 9.34 6.08\\ 9.37 6.13\\ 9.36 6.63\\
9.44 6.32\\ 9.47 6.21\\ 9.42 6.78\\ 9.40 6.52\\ 9.49 6.45\\ 9.41 6.01\\ 9.43 6.09\\ 9.46 6.55\\ 9.48 6.36\\ 9.44 6.64\\ 9.45 6.27\\ 9.41 6.62\\ 9.42 6.16\\ 9.46 6.12\\ 9.46 6.88\\ 9.49 6.73\\ 9.43 6.43\\ 9.47 6.05\\ 9.48 6.58\\ 9.42 6.04\\ 9.44 6.24\\ 9.40 6.69\\ 9.45 6.80\\ 9.47 6.49\\ 9.43 6.93\\ 9.45 6.12\\ 9.48 6.19\\ 9.42 6.30\\
9.53 6.07\\ 9.58 6.44\\ 9.51 6.81\\ 9.56 6.26\\ 9.59 6.63\\ 9.52 6.15\\ 9.57 6.92\\ 9.54 6.38\\ 9.50 6.57\\ 9.55 6.02\\ 9.58 6.71\\ 9.51 6.29\\ 9.57 6.48\\ 9.53 6.86\\ 9.59 6.11\\ 9.52 6.54\\ 9.56 6.77\\ 9.54 6.19\\ 9.50 6.35\\ 9.58 6.05\\ 9.55 6.66\\ 9.53 6.43\\ 9.57 6.21\\ 9.51 6.95\\ 9.59 6.33\\ 9.56 6.59\\
9.62 6.13\\ 9.67 6.52\\ 9.64 6.91\\ 9.69 6.27\\ 9.61 6.68\\ 9.66 6.04\\ 9.63 6.39\\ 9.68 6.83\\ 9.60 6.21\\ 9.65 6.61\\ 9.62 6.97\\ 9.67 6.33\\ 9.69 6.09\\ 9.64 6.74\\ 9.61 6.46\\ 9.66 6.17\\ 9.68 6.55\\ 9.63 6.88\\ 9.60 6.02\\ 9.65 6.42\\ 9.69 6.71\\ 9.62 6.28\\ 9.67 6.64\\ 9.64 6.11\\ 9.61 6.93\\ 9.66 6.36\\
9.71 6.07\\ 9.76 6.48\\ 9.73 6.86\\ 9.78 6.23\\ 9.70 6.65\\ 9.75 7.04\\ 9.72 6.31\\ 9.77 6.02\\ 9.79 6.57\\ 9.74 6.94\\ 9.71 6.41\\ 9.76 6.15\\ 9.73 6.72\\ 9.78 6.99\\ 9.70 6.26\\ 9.75 6.53\\ 9.72 6.81\\ 9.77 6.37\\ 9.79 6.11\\ 9.74 6.63\\ 9.71 6.89\\ 9.76 6.19\\ 9.73 6.45\\ 9.78 6.76\\ 9.70 7.08\\ 9.75 6.33\\
9.82 6.04\\ 9.87 6.43\\ 9.84 6.79\\ 9.89 6.16\\ 9.81 6.58\\ 9.86 6.97\\ 9.83 6.29\\ 9.88 6.67\\ 9.80 7.11\\ 9.85 6.09\\ 9.82 6.52\\ 9.87 6.88\\ 9.84 6.22\\ 9.89 6.61\\ 9.81 6.35\\ 9.86 6.01\\ 9.83 6.74\\ 9.88 7.03\\ 9.80 6.46\\ 9.85 6.83\\ 9.82 6.13\\ 9.87 6.31\\ 9.84 6.56\\ 9.89 6.92\\ 9.81 6.69\\ 9.86 6.38\\
9.93 6.08\\ 9.98 6.49\\ 9.91 6.86\\ 9.96 6.24\\ 9.99 6.63\\ 9.92 7.05\\ 9.97 6.37\\ 9.94 6.02\\ 9.90 6.71\\ 9.95 6.15\\ 9.98 6.94\\ 9.93 6.55\\ 9.91 6.29\\ 9.96 6.79\\ 9.99 6.11\\ 9.92 6.44\\ 9.97 7.14\\ 9.94 6.66\\ 9.90 6.32\\ 9.95 6.89\\ 9.98 6.20\\ 9.93 6.75\\ 9.91 6.05\\ 9.96 6.58\\ 9.99 6.99\\ 9.94 6.41\\
10.02 6.12\\ 10.07 6.56\\ 10.04 6.98\\ 10.09 6.31\\ 10.01 6.77\\ 10.06 7.19\\ 10.03 6.04\\ 10.08 6.45\\ 10.00 6.88\\ 10.05 6.23\\ 10.02 6.67\\ 10.07 7.08\\ 10.04 6.39\\ 10.09 6.83\\ 10.01 6.16\\ 10.06 6.61\\ 10.03 7.25\\ 10.08 6.07\\ 10.00 6.50\\ 10.05 6.94\\ 10.02 6.28\\ 10.07 6.72\\ 10.04 6.02\\ 10.09 7.13\\
10.13 6.09\\ 10.18 6.52\\ 10.11 6.96\\ 10.16 6.27\\ 10.19 6.71\\ 10.12 7.15\\ 10.17 6.03\\ 10.14 6.44\\ 10.10 6.87\\ 10.15 7.31\\ 10.18 6.18\\ 10.13 6.63\\ 10.11 7.05\\ 10.16 6.37\\ 10.19 6.81\\ 10.12 6.11\\ 10.17 6.57\\ 10.14 7.22\\ 10.10 6.30\\ 10.15 6.75\\ 10.18 6.01\\ 10.13 6.47\\ 10.11 6.92\\ 10.16 7.38\\
10.21 6.06\\ 10.26 6.49\\ 10.23 6.94\\ 10.28 6.21\\ 10.20 6.66\\ 10.25 7.12\\ 10.22 6.37\\ 10.27 6.81\\ 10.29 7.27\\ 10.24 6.13\\ 10.21 6.58\\ 10.26 7.03\\ 10.23 6.28\\ 10.28 6.73\\ 10.20 7.19\\ 10.25 6.02\\ 10.22 6.45\\ 10.27 6.91\\ 10.29 7.41\\ 10.24 6.34\\ 10.21 6.79\\ 10.26 6.17\\ 10.23 6.62\\ 10.28 7.08\\
10.32 6.11\\ 10.37 6.54\\ 10.34 6.99\\ 10.39 6.26\\ 10.31 6.69\\ 10.36 7.14\\ 10.33 6.41\\ 10.38 6.85\\ 10.30 7.31\\ 10.35 6.05\\ 10.32 6.48\\ 10.37 6.93\\ 10.34 6.19\\ 10.39 6.63\\ 10.31 7.08\\ 10.36 7.47\\ 10.33 6.33\\ 10.38 6.77\\ 10.30 6.14\\ 10.35 6.58\\ 10.32 7.02\\ 10.37 7.24\\ 10.34 6.38\\ 10.39 6.89\\
10.43 6.08\\ 10.48 6.51\\ 10.41 6.95\\ 10.46 6.24\\ 10.49 6.68\\ 10.42 7.12\\ 10.47 6.39\\ 10.44 6.83\\ 10.40 7.29\\ 10.45 6.14\\ 10.48 6.59\\ 10.43 7.03\\ 10.41 6.31\\ 10.46 6.76\\ 10.49 7.21\\ 10.42 6.45\\ 10.47 6.90\\ 10.44 7.44\\ 10.40 6.63\\ 10.45 7.07\\ 10.48 6.21\\ 10.43 6.71\\
10.52 6.18\\ 10.57 6.61\\ 10.54 7.04\\ 10.59 6.35\\ 10.51 6.79\\ 10.56 7.22\\ 10.53 6.47\\ 10.58 6.92\\ 10.50 7.39\\ 10.55 6.26\\ 10.52 6.71\\ 10.57 7.13\\ 10.54 6.42\\ 10.59 6.86\\ 10.51 7.31\\ 10.56 6.53\\ 10.53 6.98\\ 10.58 7.55\\ 10.50 6.64\\ 10.55 7.08\\
10.63 6.29\\ 10.68 6.72\\ 10.61 7.15\\ 10.66 6.44\\ 10.69 6.88\\ 10.62 7.33\\ 10.67 6.57\\ 10.64 7.01\\ 10.60 7.48\\ 10.65 6.36\\ 10.68 6.81\\ 10.63 7.24\\ 10.61 6.51\\ 10.66 6.95\\ 10.69 7.41\\ 10.62 6.66\\ 10.67 7.09\\ 10.64 7.62\\
10.72 6.38\\ 10.77 6.83\\ 10.74 7.26\\ 10.79 6.55\\ 10.71 7.01\\ 10.76 7.46\\ 10.73 6.69\\ 10.78 7.12\\ 10.70 7.61\\ 10.75 6.47\\ 10.72 6.92\\ 10.77 7.35\\ 10.74 6.62\\ 10.79 7.05\\ 10.71 7.53\\ 10.76 6.76\\
10.82 6.58\\ 10.87 7.03\\ 10.84 7.44\\ 10.89 6.79\\ 10.81 7.21\\ 10.86 7.66\\ 10.83 6.91\\ 10.88 7.32\\ 10.80 7.79\\ 10.85 6.68\\ 10.82 7.12\\ 10.87 7.55\\ 10.84 6.85\\ 10.89 7.27\\
10.92 6.77\\ 10.97 7.22\\ 10.94 7.64\\ 10.99 6.98\\ 10.91 7.41\\ 10.96 7.87\\ 10.93 7.11\\ 10.98 7.53\\ 10.90 8.02\\ 10.95 6.89\\ 10.92 7.33\\ 10.97 7.76\\
11.02 7.14\\ 11.07 7.58\\ 11.04 8.01\\ 11.09 7.33\\ 11.01 7.77\\ 11.06 8.22\\ 11.03 7.45\\ 11.08 7.91\\ 11.05 7.26\\ 11.00 7.69\\
11.12 7.48\\ 11.17 7.92\\ 11.14 8.31\\ 11.19 7.67\\ 11.11 8.09\\ 11.16 8.44\\ 11.13 7.81\\ 11.18 8.18\\
11.22 7.71\\ 11.27 8.12\\ 11.24 8.49\\ 11.29 7.93\\ 11.21 8.33\\ 11.26 8.58\\
11.32 8.05\\ 11.37 8.46\\ 11.34 8.67\\ 11.39 8.22\\ 11.31 8.38\\
9.63 6.47\\ 9.71 6.93\\ 9.78 6.28\\ 9.85 6.71\\ 9.92 6.18\\ 9.99 6.52\\ 10.06 6.86\\ 10.13 6.25\\ 10.20 6.59\\ 10.27 6.97\\ 10.34 6.44\\ 10.41 6.82\\ 10.48 6.35\\ 10.55 6.69\\ 10.62 7.02\\ 10.69 6.31\\ 10.76 6.54\\ 9.66 6.81\\ 9.74 6.12\\ 9.81 6.49\\ 9.88 6.95\\ 9.95 6.27\\ 10.02 6.64\\ 10.09 7.01\\ 10.16 6.41\\ 10.23 6.78\\ 10.30 6.09\\ 10.37 6.66\\ 10.44 7.05\\ 10.51 6.48\\ 10.58 6.86\\ 10.65 6.21\\ 10.72 6.73\\ 10.79 7.11\\
9.69 6.06\\ 9.76 6.58\\ 9.83 6.89\\ 9.90 6.39\\ 9.97 6.83\\ 10.04 6.17\\ 10.11 6.72\\ 10.18 6.97\\ 10.25 6.29\\ 10.32 6.81\\ 10.39 6.53\\ 10.46 6.92\\ 10.53 6.24\\ 10.60 6.62\\ 10.67 6.91\\ 10.74 6.43\\ 9.61 6.33\\ 9.68 6.72\\ 9.75 6.97\\ 9.82 6.17\\ 9.89 6.52\\ 9.96 7.08\\ 10.03 6.45\\ 10.10 6.11\\ 10.17 6.86\\ 10.24 7.21\\ 10.31 6.57\\ 10.38 6.02\\ 10.45 6.74\\ 10.52 7.14\\ 10.59 6.41\\ 10.66 6.79\\ 10.73 7.19\\ 10.80 6.64\\
9.64 6.58\\ 9.72 6.44\\ 9.79 6.84\\ 9.86 6.26\\ 9.93 6.61\\ 10.00 6.99\\ 10.07 6.33\\ 10.14 6.78\\ 10.21 6.13\\ 10.28 6.52\\ 10.35 6.91\\ 10.42 6.27\\ 10.49 6.61\\ 10.56 6.97\\ 10.63 6.46\\ 10.70 6.85\\ 10.77 6.36\\ 9.67 6.19\\ 9.74 6.77\\ 9.81 7.02\\ 9.88 6.31\\ 9.95 6.48\\ 10.02 6.91\\ 10.09 6.23\\ 10.16 7.09\\ 10.23 6.49\\ 10.30 6.73\\ 10.37 7.18\\ 10.44 6.56\\ 10.51 6.88\\ 10.58 6.17\\ 10.65 7.07\\ 10.72 6.58\\ 10.79 6.93\\ 9.98 6.69\\ 10.12 6.54\\ 10.26 6.64\\ 10.40 6.41\\ 10.54 6.77\\ 10.68 6.66\\ 10.33 6.23\\ 10.19 6.31\\ 10.05 6.74\\
10.62 7.44\\ 10.68 7.92\\ 10.73 7.28\\ 10.79 7.71\\ 10.84 8.04\\ 10.89 7.49\\ 10.94 7.84\\ 10.99 7.27\\ 11.04 7.72\\ 11.09 8.11\\ 11.14 7.58\\ 11.19 7.97\\ 11.24 7.79\\ 11.29 8.19\\ 10.65 7.15\\ 10.71 7.58\\ 10.76 7.98\\ 10.81 7.36\\ 10.86 7.81\\ 10.91 8.14\\ 10.96 7.59\\ 11.01 8.06\\ 11.06 7.47\\ 11.11 7.85\\ 11.16 8.27\\ 11.21 7.95\\ 11.26 8.36\\ 10.67 7.77\\ 10.74 7.06\\ 10.80 7.52\\ 10.85 7.18\\ 10.90 7.71\\ 10.95 7.37\\ 11.00 7.89\\ 11.05 7.61\\ 11.10 7.38\\ 11.15 8.02\\ 11.20 7.64\\ 11.27 7.86\\ 11.33 8.12\\ 10.98 8.25\\ 11.08 8.37\\ 11.36 8.51\\ 11.42 8.68\\ 11.46 8.57\\ 11.30 8.55\\ 10.88 6.97\\ 10.97 7.02\\ 11.03 7.21\\ 11.12 7.13\\
8.03 6.56\\ 8.09 6.62\\ 8.14 6.49\\ 8.18 6.66\\ 8.26 6.53\\ 8.31 6.74\\ 8.35 6.56\\ 8.39 6.65\\ 8.43 6.72\\ 8.47 6.55\\ 8.51 6.80\\ 8.56 6.62\\ 8.60 6.71\\ 8.66 6.59\\ 8.70 6.87\\ 8.74 6.73\\ 8.78 6.64\\ 8.81 6.79\\ 8.87 6.68\\ 8.91 6.75\\ 8.95 6.85\\ 8.99 6.72\\ 8.06 6.52\\ 8.21 6.61\\ 8.37 6.49\\ 8.53 6.58\\ 8.68 6.64\\ 8.83 6.57\\ 8.97 6.62\\ 8.45 6.86\\
}\pts

\newcommand{\subtxt}[2]{\raisebox{-2.6pt}{\scalebox{1.2}[1]{\fontsize{#1}{#1}\selectfont #2}}}

\begin{document}
\begin{tikzpicture}
\useasboundingbox (0,0) rectangle (261.75pt,241pt);
\clip (0,0) rectangle (261.75pt,241pt);
\fill[white] (0,0) rectangle (261.75pt,241pt);
% soft shadow of the inset (drawn under the points)
\begin{scope}[shift={(0pt,241pt)}, x=0.25pt, y=-0.25pt]
  \foreach \i in {1,...,20} {
    \pgfmathsetmacro\k{\i/20}
    \fill[black, fill opacity=0.027] ({629-11*\k},222) -- (1070,222) -- (1070,{222+22*\k}) -- ({629-11*\k},{222+48*\k}) -- cycle;
  }
  \foreach \i in {1,...,8} {
    \fill[black, fill opacity=0.02] ({629-\i},-10) rectangle (629,222);
  }
\end{scope}

\begin{axis}[
  at={(41.75pt,35.5pt)}, anchor=south west,
  width=208.25pt, height=200.5pt, scale only axis,
  xmin=8, xmax=13, ymin=6, ymax=10,
  xtick={8,9,10,11,12,13}, ytick={6,7,8,9,10},
  minor x tick num=9, minor y tick num=9,
  tick align=inside, xtick pos=both, ytick pos=both,
  xticklabel pos=lower, yticklabel pos=left,
  major tick length=4pt, minor tick length=2pt,
  axis line style={axgray, line width=0.5pt},
  tick style={axgray, line width=0.4pt},
  /pgf/number format/assume math mode=true,
  ticklabel style={font=\fontsize{9.8}{11}\selectfont, text=txtgray},
  xticklabel style={yshift=-5.7pt},
  yticklabel style={xshift=-2.7pt},
  xlabel={log m\hspace{2pt}\subtxt{5.6}{Bulge}\hspace{7pt}/\hspace{7pt}M\raisebox{-2pt}{$\scriptstyle\odot$}},
  xlabel style={at={(axis description cs:0.4985,-0.133)}, anchor=center, font=\fontsize{10}{12}\selectfont, text=txtgray},
  ylabel={log m\hspace{2pt}\subtxt{5}{BH}\hspace{7pt}/\hspace{7pt}M\raisebox{-2pt}{$\scriptstyle\odot$}},
  ylabel style={at={(axis description cs:-0.1405,0.501)}, anchor=center, font=\fontsize{10}{12}\selectfont, text=txtgray},
  legend style={at={(0.0576,0.9377)}, anchor=west, draw=none, fill=none, inner sep=0pt, outer sep=0pt,
    font=\fontsize{8.5}{10}\selectfont, text=txtgray, nodes={inner sep=0pt}},
  legend image code/.code={\draw[#1] (0pt,0pt) -- (29.25pt,0pt); \path (34pt,0pt);},
]
\addplot[only marks, mark=*, mark size=0.7pt, mark options={draw=none, fill=black}, forget plot] table {\pts};
\addplot[hrblue, line width=0.8pt] coordinates {(9.036,6) (12.607,10)};
\addlegendentry{Haring \& Rix (2004)}
\end{axis}

\begin{scope}[shift={(0pt,241pt)}, x=0.25pt, y=-0.25pt]
  \draw[black!20, line width=0.4pt] (4,-10) -- (4,960) -- (1060,960);
  \fill[white] (629,-10) rectangle (1070,222);
  \draw[black!30, line width=0.3pt] (629,-10) -- (629,222) -- (1070,222);
  \draw[black!25, line width=0.3pt] (663,-10) -- (663,185) -- (1070,185);
\end{scope}

\begin{axis}[
  at={(216.5pt,230.5pt)}, anchor=south west,
  width=76.5pt, height=65.5pt, scale only axis,
  xmode=log, ymode=log,
  xmin=1e8, xmax=1e10, ymin=1e5, ymax=1e7,
  xtick={1e8,1e9}, ytick={1e5,1e6},
  xticklabels={{\lmr 10\raisebox{6.2pt}{8}},{\lmr 10\raisebox{6.2pt}{9}}},
  yticklabels={{\lmr 10\raisebox{6.2pt}{5}},{\lmr 10\raisebox{6.2pt}{6}}},
  tick align=inside,
  major tick length=2.5pt, minor tick length=1.2pt,
  axis line style={black!80, line width=0.5pt},
  tick style={black!80, line width=0.4pt},
  ticklabel style={font=\fontsize{11.5}{13}\selectfont, text=black!70, inner sep=0pt},
  xticklabel style={anchor=north, yshift=-3.25pt},
  yticklabel style={anchor=base east, xshift=-4pt},
]
\addplot[black!85, line width=0.6pt] coordinates {(1.39e8,1e5) (5e8,4.2e5)};
\addplot[black!85, line width=0.6pt, dash pattern=on 2pt off 1.3pt] coordinates {(1e8,1.1e5) (4e8,4.57e5)};
\end{axis}
\end{tikzpicture}
\end{document}
